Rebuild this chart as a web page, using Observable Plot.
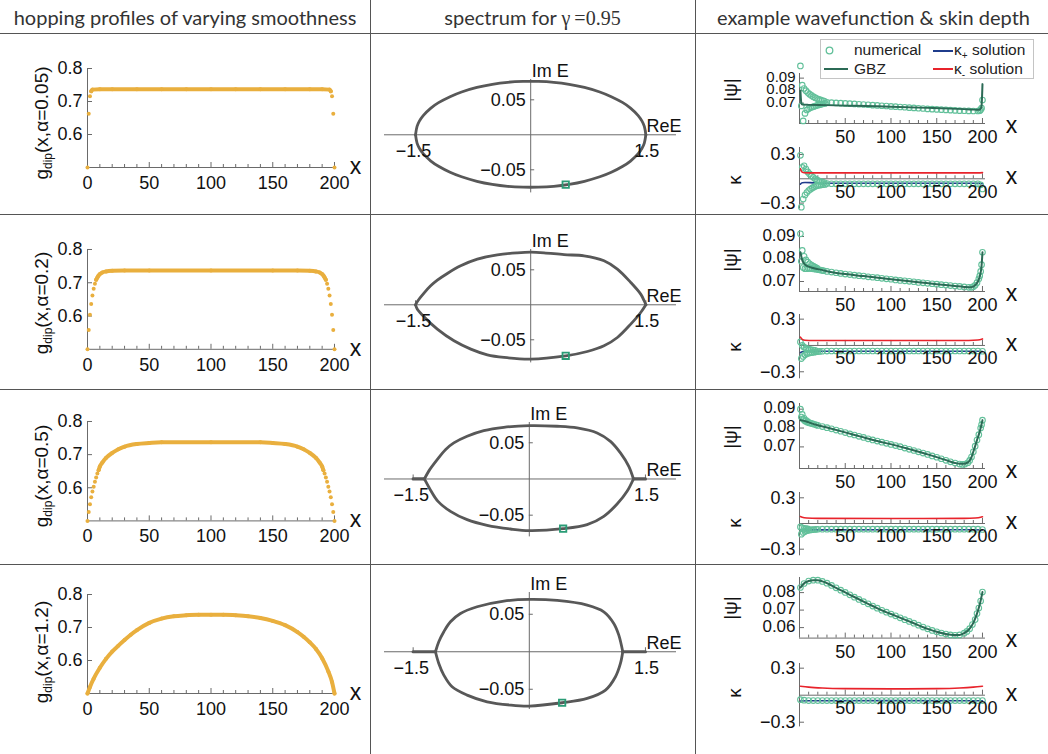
<!DOCTYPE html>
<html><head><meta charset="utf-8">
<script src="https://cdn.jsdelivr.net/npm/d3@7"></script>
<script src="https://cdn.jsdelivr.net/npm/@observablehq/plot@0.6"></script>
<style>
html,body{margin:0;padding:0;background:#fff;}
#root{position:relative;width:1048px;height:754px;overflow:hidden;background:#fff;font-family:"Liberation Sans",Arial,sans-serif;}
.hline{position:absolute;left:0;width:1048px;height:1px;background:#555;}
.vline{position:absolute;top:0;height:754px;width:1px;background:#555;}
.head{position:absolute;top:4px;height:26px;line-height:26px;font-family:Lato,"Open Sans",sans-serif;font-size:20px;color:#333;text-align:center;white-space:nowrap;}
.serif{font-family:"Liberation Serif","DejaVu Serif",serif;}
.rlab{position:absolute;transform:translate(-50%,-50%) rotate(-90deg);white-space:nowrap;font-size:19px;color:#111;line-height:20px;font-family:"Liberation Sans",Arial,sans-serif;}
.rlab sub{font-size:12px;vertical-align:-4px;line-height:0;}
svg{overflow:visible;}
#legend{position:absolute;left:820px;top:39px;width:212px;height:38px;border:1px solid #c4c4c4;background:rgba(255,255,255,0.92);font-size:15.5px;color:#222;}
#legend span{position:absolute;white-space:nowrap;line-height:18px;}
#legend sub{font-size:10px;vertical-align:-4px;line-height:0;}
</style></head><body><div id="root"></div>
<script>
// ---------------- DATA ----------------
// Column 1: hopping profiles g_dip(x, alpha)
const alphaLabels = ["0.05", "0.2", "0.5", "1.2"];
const gX_005 = [0,1,2,3,4,10,20,40,60,80,100,120,140,160,180,190,196,197,198,199,200];
const gY_005 = [0.5,0.663,0.716,0.731,0.736,0.737,0.737,0.737,0.737,0.737,0.737,0.737,0.737,0.737,0.737,0.737,0.736,0.731,0.716,0.663,0.5];
const gBody_005 = [3, 197];
const gX_02 = [0,1,2,3,4,5,6,7,8,9,10,12,15,20,30,50,100,150,170,180,185,188,190,191,192,193,194,195,196,197,198,199,200];
const gY_02 = [0.5,0.558,0.604,0.636,0.662,0.682,0.697,0.709,0.716,0.722,0.726,0.731,0.734,0.736,0.737,0.737,0.737,0.737,0.737,0.736,0.734,0.731,0.726,0.722,0.716,0.709,0.697,0.682,0.662,0.636,0.604,0.558,0.5];
const gBody_02 = [7, 193];
const gX_05 = [0,1,2,3,4,5,6,7,8,9,10,12,15,20,25,30,40,50,60,100,140,150,160,170,175,180,185,188,190,191,192,193,194,195,196,197,198,199,200];
const gY_05 = [0.5,0.527,0.55,0.571,0.589,0.603,0.618,0.631,0.643,0.653,0.664,0.676,0.69,0.705,0.716,0.724,0.732,0.735,0.737,0.737,0.737,0.735,0.732,0.724,0.716,0.705,0.69,0.676,0.664,0.653,0.643,0.631,0.618,0.603,0.589,0.571,0.55,0.527,0.5];
const gBody_05 = [9, 191];
const gX_12 = [0,2,5,10,15,20,25,30,35,40,50,60,70,80,90,100,110,120,130,140,150,160,170,175,180,185,190,195,198,200];
const gY_12 = [0.5,0.52,0.545,0.578,0.605,0.627,0.645,0.662,0.678,0.692,0.714,0.727,0.734,0.737,0.739,0.739,0.739,0.737,0.734,0.729,0.72,0.707,0.686,0.672,0.655,0.635,0.607,0.567,0.535,0.5];
const gBody_12 = [0, 200];
const c1XTicks = [0, 50, 100, 150, 200];
const c1XMinor = [10,20,30,40,60,70,80,90,110,120,130,140,160,170,180,190];
const c1YTicks = [0.6, 0.7, 0.8];

// Column 2: spectra (Re E, Im E), upper and lower branches, real-axis segments
const specUpRe_1 = [-1.5,-1.48,-1.45,-1.4,-1.3,-1.2,-1.05,-0.9,-0.7,-0.5,-0.3,-0.1,0.1,0.3,0.5,0.7,0.9,1.05,1.2,1.3,1.4,1.45,1.48,1.5];
const specUpIm_1 = [0,0.012,0.0195,0.0275,0.0382,0.0459,0.0545,0.0612,0.0677,0.0722,0.075,0.0762,0.0762,0.075,0.0722,0.0677,0.0612,0.0545,0.0459,0.0382,0.0275,0.0195,0.012,0];
const specLoRe_1 = [-1.5,-1.48,-1.45,-1.4,-1.3,-1.2,-1.05,-0.9,-0.7,-0.5,-0.3,-0.1,0.1,0.3,0.5,0.7,0.9,1.05,1.2,1.3,1.4,1.45,1.48,1.5];
const specLoIm_1 = [0,-0.0118,-0.0192,-0.027,-0.0375,-0.045,-0.0535,-0.06,-0.0664,-0.0708,-0.0736,-0.0748,-0.0748,-0.0736,-0.0708,-0.0664,-0.06,-0.0535,-0.045,-0.0375,-0.027,-0.0192,-0.0118,0];
const specUpRe_2 = [-1.5,-1.476,-1.39,-1.303,-1.216,-1.086,-0.912,-0.695,-0.434,-0.174,0,0.174,0.434,0.695,0.955,1.129,1.303,1.433,1.476,1.5];
const specUpIm_2 = [0,0.0048,0.0167,0.0271,0.0352,0.0448,0.0557,0.0652,0.0714,0.0743,0.0752,0.0743,0.0716,0.07,0.0629,0.051,0.0319,0.0152,0.0062,0];
const specLoRe_2 = [-1.5,-1.476,-1.39,-1.216,-0.999,-0.78,-0.565,-0.347,0,0.456,0.738,0.955,1.129,1.303,1.433,1.5];
const specLoIm_2 = [0,-0.0062,-0.0171,-0.0348,-0.0514,-0.0633,-0.0714,-0.0752,-0.0776,-0.0729,-0.0667,-0.0586,-0.0467,-0.0276,-0.011,0];
const specUpRe_3 = [-1.355,-1.286,-1.19,-1.083,-0.975,-0.803,-0.588,-0.33,0,0.36,0.618,0.876,1.048,1.177,1.285,1.345];
const specUpIm_3 = [0,0.0129,0.0267,0.0405,0.0498,0.059,0.0668,0.0714,0.0737,0.0728,0.0705,0.0636,0.052,0.036,0.0175,0];
const specLoRe_3 = [-1.355,-1.286,-1.179,-1.018,-0.803,-0.545,-0.243,0,0.437,0.747,0.962,1.134,1.263,1.345];
const specLoIm_3 = [0,-0.0134,-0.0309,-0.0447,-0.0562,-0.064,-0.0691,-0.0714,-0.0687,-0.0631,-0.0516,-0.0346,-0.017,0];
const specSegL_3 = [-1.5, -1.355];
const specSegR_3 = [1.345, 1.5];
const specUpRe_4 = [-1.212,-1.169,-1.104,-1.018,-0.889,-0.674,-0.329,0,0.36,0.747,0.962,1.091,1.156,1.207];
const specUpIm_4 = [0,0.0133,0.0267,0.04,0.0511,0.06,0.0676,0.0698,0.0684,0.0622,0.0533,0.0378,0.0222,0];
const specLoRe_4 = [-1.212,-1.169,-1.104,-0.997,-0.803,-0.545,-0.243,0,0.424,0.747,0.984,1.113,1.177,1.207];
const specLoIm_4 = [0,-0.0156,-0.0311,-0.0467,-0.0578,-0.0667,-0.0711,-0.0724,-0.068,-0.0622,-0.0511,-0.0333,-0.0156,0];
const specSegL_4 = [-1.5, -1.212];
const specSegR_4 = [1.207, 1.5];
const selRe = [0.456, 0.456, 0.437, 0.424];
const selIm = [-0.0712, -0.0729, -0.0687, -0.068];
const c2XTicks = [-1.5, 1.5];
const c2YTicks = [-0.05, 0.05];

// Column 3: wavefunction |psi| and skin depth kappa
const psiNumX_1 = [1,2,3,4,5,6,7,8,9,10,11,12,13,14,15,16,17,18,19,20,21,22,23,24,25,26,27,28,30,35,40,45,50,55,60,65,70,75,80,85,90,95,100,105,110,115,120,125,130,135,140,145,150,155,160,165,170,175,180,185,190,195,197,198,199,200];
const psiNumY_1 = [0.0998,0.0678,0.0844,0.0558,0.0817,0.0618,0.08,0.0645,0.0785,0.0656,0.0772,0.0663,0.0762,0.0669,0.0752,0.0674,0.0744,0.0679,0.0737,0.0684,0.0731,0.0688,0.0726,0.0692,0.0721,0.0695,0.0717,0.0698,0.0706,0.0704,0.0702,0.07,0.0698,0.0696,0.0694,0.0691,0.0689,0.0687,0.0684,0.0682,0.0679,0.0677,0.0674,0.0672,0.0669,0.0667,0.0664,0.0662,0.0659,0.0657,0.0654,0.0652,0.065,0.0648,0.0646,0.0644,0.0642,0.064,0.0639,0.0638,0.0637,0.0637,0.064,0.0648,0.066,0.0725];
const gbzX_1 = [1,2,3,10,30,60,100,140,180,192,196,198,199,200];
const gbzY_1 = [0.08,0.07,0.0688,0.0686,0.0684,0.0679,0.0671,0.0662,0.0652,0.0648,0.0647,0.0655,0.068,0.0852];
const kapNumX_1 = [1,2,3,4,5,6,7,8,9,10,11,12,13,14,15,16,17,18,19,20,21,22,23,24,25,26,27,28,30,35,40,45,50,55,60,65,70,75,80,85,90,95,100,105,110,115,120,125,130,135,140,145,150,155,160,165,170,175,180,185,190,195,198,200];
const kapNumY_1 = [0.29,-0.35,0.14,-0.25,0.16,-0.2,0.12,-0.17,0.085,-0.145,0.06,-0.128,0.037,-0.113,0.018,-0.1,0,-0.09,-0.014,-0.084,-0.025,-0.079,-0.034,-0.075,-0.041,-0.072,-0.047,-0.07,-0.058,-0.061,-0.062,-0.062,-0.062,-0.062,-0.062,-0.062,-0.062,-0.062,-0.062,-0.062,-0.062,-0.062,-0.062,-0.062,-0.062,-0.062,-0.062,-0.062,-0.062,-0.062,-0.062,-0.062,-0.062,-0.062,-0.062,-0.062,-0.062,-0.062,-0.062,-0.062,-0.062,-0.062,-0.075,-0.125];
const kapPlusX_1 = [1,3,6,15,30,100,195,200];
const kapPlusY_1 = [-0.066,-0.05,-0.045,-0.05,-0.055,-0.056,-0.056,-0.06];
const kapMinusX_1 = [1,2,3,5,10,100,195,200];
const kapMinusY_1 = [0.125,0.095,0.082,0.075,0.073,0.073,0.073,0.076];

const psiNumX_2 = [1,2,3,4,5,6,7,8,9,10,11,12,13,14,15,16,17,18,19,20,22,24,26,30,35,40,45,50,55,60,65,70,75,80,85,90,95,100,105,110,115,120,125,130,135,140,145,150,155,160,165,170,175,180,185,188,190,192,194,196,197,198,199,200];
const psiNumY_2 = [0.0912,0.079,0.0838,0.0762,0.0812,0.0757,0.0796,0.0757,0.0786,0.0758,0.0779,0.0758,0.0773,0.0757,0.0768,0.0756,0.0764,0.0755,0.076,0.0753,0.0752,0.075,0.0748,0.0745,0.0742,0.0739,0.0736,0.0733,0.0731,0.0728,0.0726,0.0724,0.0721,0.0719,0.0717,0.0714,0.0712,0.071,0.0707,0.0705,0.0703,0.0701,0.0699,0.0696,0.0694,0.0692,0.069,0.0688,0.0686,0.0684,0.0682,0.068,0.0678,0.0676,0.0674,0.0674,0.0677,0.0683,0.0695,0.0712,0.0725,0.0745,0.0775,0.083];
const gbzX_2 = [1,3,5,7,10,15,20,30,50,70,100,130,150,170,180,186,190,193,195,197,199,200];
const gbzY_2 = [0.083,0.0795,0.078,0.0772,0.0766,0.076,0.0755,0.0746,0.0733,0.0724,0.071,0.0697,0.0688,0.068,0.0676,0.0674,0.0677,0.0688,0.07,0.0722,0.077,0.083];
const kapNumX_2 = [1,2,3,4,5,6,7,8,9,10,11,12,13,14,15,16,17,18,20,22,25,30,35,40,45,50,55,60,65,70,75,80,85,90,95,100,105,110,115,120,125,130,135,140,145,150,155,160,165,170,175,180,185,190,195,200];
const kapNumY_2 = [0.04,-0.15,0,-0.125,-0.02,-0.105,-0.032,-0.095,-0.04,-0.088,-0.045,-0.083,-0.049,-0.079,-0.052,-0.076,-0.055,-0.073,-0.07,-0.068,-0.066,-0.064,-0.063,-0.063,-0.063,-0.063,-0.063,-0.063,-0.063,-0.063,-0.063,-0.063,-0.063,-0.063,-0.063,-0.063,-0.063,-0.063,-0.063,-0.063,-0.063,-0.063,-0.063,-0.063,-0.063,-0.063,-0.063,-0.063,-0.063,-0.063,-0.063,-0.063,-0.063,-0.063,-0.063,-0.066];
const kapPlusX_2 = [1,3,6,15,100,195,200];
const kapPlusY_2 = [-0.083,-0.072,-0.068,-0.066,-0.066,-0.066,-0.068];
const kapMinusX_2 = [1,3,6,15,100,185,195,200];
const kapMinusY_2 = [0.095,0.07,0.06,0.057,0.056,0.057,0.062,0.075];

const psiNumX_3 = [1,2,3,4,5,6,7,8,9,10,12,14,16,18,20,25,30,35,40,45,50,55,60,65,70,75,80,85,90,95,100,105,110,115,120,125,130,135,140,145,150,155,160,165,170,175,178,181,184,186,188,190,192,194,196,198,199,200];
const psiNumY_3 = [0.09,0.0858,0.0872,0.0846,0.0852,0.0838,0.0841,0.0832,0.0834,0.0828,0.0826,0.0823,0.082,0.0817,0.0814,0.0808,0.0802,0.0796,0.0789,0.0783,0.0776,0.0769,0.0763,0.0756,0.075,0.0743,0.0737,0.0731,0.0725,0.0719,0.0713,0.0707,0.0701,0.0694,0.0687,0.0681,0.0674,0.0667,0.066,0.0652,0.0645,0.0637,0.0629,0.0621,0.0614,0.0609,0.0607,0.0609,0.0616,0.0628,0.0646,0.0674,0.0704,0.0736,0.0765,0.08,0.0818,0.0842];
const gbzX_3 = [1,5,10,20,32,50,68,85,105,120,141,155,163,170,176,180,184,186,188,190,192,194,196,198,200];
const gbzY_3 = [0.0842,0.0838,0.083,0.0815,0.08,0.0777,0.0753,0.0731,0.0708,0.0688,0.0659,0.0638,0.0625,0.0615,0.061,0.0611,0.0618,0.0628,0.0646,0.0674,0.0704,0.0736,0.0765,0.08,0.0842];
const kapNumX_3 = [1,2,3,4,5,6,7,8,9,10,12,14,16,18,20,25,30,35,40,45,50,55,60,65,70,75,80,85,90,95,100,105,110,115,120,125,130,135,140,145,150,155,160,165,170,175,180,185,190,195,200];
const kapNumY_3 = [-0.04,-0.125,-0.05,-0.105,-0.056,-0.092,-0.06,-0.084,-0.063,-0.079,-0.075,-0.072,-0.07,-0.068,-0.067,-0.066,-0.066,-0.066,-0.066,-0.066,-0.066,-0.066,-0.066,-0.066,-0.066,-0.066,-0.066,-0.066,-0.066,-0.066,-0.066,-0.066,-0.066,-0.066,-0.066,-0.066,-0.066,-0.066,-0.066,-0.066,-0.066,-0.066,-0.066,-0.066,-0.066,-0.066,-0.066,-0.066,-0.066,-0.066,-0.07];
const kapPlusX_3 = [1,5,20,100,190,200];
const kapPlusY_3 = [-0.072,-0.075,-0.074,-0.073,-0.073,-0.075];
const kapMinusX_3 = [1,3,8,20,100,180,192,198,200];
const kapMinusY_3 = [0.082,0.072,0.064,0.06,0.058,0.06,0.064,0.072,0.078];

const psiNumX_4 = [1,5,10,15,20,25,30,35,40,45,50,55,60,65,70,75,80,85,90,95,100,105,110,115,120,125,130,135,140,145,150,155,160,165,170,175,180,183,186,189,192,194,196,198,200];
const psiNumY_4 = [0.0829,0.0852,0.0866,0.0871,0.0871,0.0864,0.0854,0.0841,0.0827,0.0814,0.0801,0.0787,0.0774,0.0761,0.0748,0.0736,0.0723,0.0711,0.0699,0.0688,0.0677,0.0667,0.0656,0.0645,0.0635,0.0625,0.0614,0.0603,0.0593,0.0584,0.0576,0.0569,0.0563,0.0558,0.0556,0.0558,0.0568,0.0578,0.0594,0.0617,0.0646,0.068,0.0712,0.0752,0.0803];
const gbzX_4 = [1,6,10,15,20,25,32,40,50,61,75,87,105,123,141,150,160,168,175,180,186,190,194,197,200];
const gbzY_4 = [0.0829,0.0857,0.0866,0.0871,0.0871,0.0864,0.0849,0.0827,0.0801,0.0772,0.0736,0.0706,0.0667,0.0629,0.0591,0.0576,0.0563,0.0557,0.0558,0.0568,0.0594,0.0627,0.068,0.0732,0.0803];
const kapNumX_4 = [1,5,10,15,20,25,30,35,40,45,50,55,60,65,70,75,80,85,90,95,100,105,110,115,120,125,130,135,140,145,150,155,160,165,170,175,180,185,190,195,200];
const kapNumY_4 = [-0.05,-0.055,-0.06,-0.06,-0.06,-0.06,-0.06,-0.06,-0.06,-0.06,-0.06,-0.06,-0.06,-0.06,-0.06,-0.06,-0.06,-0.06,-0.06,-0.06,-0.06,-0.06,-0.06,-0.06,-0.06,-0.06,-0.06,-0.06,-0.06,-0.06,-0.06,-0.06,-0.06,-0.06,-0.06,-0.06,-0.06,-0.06,-0.06,-0.06,-0.06];
const kapPlusX_4 = [1,10,100,200];
const kapPlusY_4 = [-0.065,-0.062,-0.06,-0.062];
const kapMinusX_4 = [1,10,25,50,100,150,175,190,200];
const kapMinusY_4 = [0.1,0.09,0.08,0.073,0.07,0.073,0.08,0.09,0.1];

const c3XTicks = [50, 100, 150, 200];
const c3XMinor = [10,20,30,40,60,70,80,90,110,120,130,140,160,170,180,190];
const psiYTicks = [[0.07,0.08,0.09],[0.07,0.08,0.09],[0.07,0.08,0.09],[0.06,0.07,0.08]];
const kapYTicks = [-0.3, 0.3];

// ---------------- STYLE / LAYOUT ----------------
const ORANGE = "#E9AF3E", SPEC = "#585858", MINT = "#62C09A", GBZC = "#2B6A55",
      BLUE = "#1F3C8C", RED = "#E8232B", SQ = "#2A9C76", AX = "#6a6a6a", TXT = "#111";
const FONT = "Liberation Sans, Arial, sans-serif";
const FS = 18;
const root = document.getElementById("root");
const fmt = v => (v < 0 ? "\u2212" : "") + String(Math.abs(v));
const zip = (X, Y) => X.map((x, i) => ({x, y: Y[i]}));
const T = {fontSize: FS, fill: TXT, fontFamily: FONT};

function panel(fr, xd, yd, build) {
  const ml = 90, mr = 60, mt = 40, mb = 40;
  const w = fr.x1 - fr.x0, h = fr.y1 - fr.y0;
  const ky = (yd[1] - yd[0]) / h, kx = (xd[1] - xd[0]) / w; // data units per pixel
  const svg = Plot.plot({
    width: w + ml + mr, height: h + mt + mb,
    marginLeft: ml, marginRight: mr, marginTop: mt, marginBottom: mb,
    x: {domain: xd, axis: null}, y: {domain: yd, axis: null},
    style: {background: "transparent", overflow: "visible", fontFamily: FONT},
    marks: build(kx, ky)
  });
  svg.style.position = "absolute";
  svg.style.left = (fr.x0 - ml) + "px";
  svg.style.top = (fr.y0 - mt) + "px";
  root.appendChild(svg);
}
const xTickMarks = (vals, y0, len, ky) => Plot.ruleX(vals, {x: d => d, y1: y0, y2: y0 + len * ky, stroke: AX, strokeWidth: 1});
const yTickMarks = (vals, x0, len, kx) => Plot.ruleY(vals, {y: d => d, x1: x0, x2: x0 + len * kx, stroke: AX, strokeWidth: 1});

// table grid
[33, 214, 389, 564].forEach(y => { const d = document.createElement("div"); d.className = "hline"; d.style.top = y + "px"; root.appendChild(d); });
[370, 695].forEach(x => { const d = document.createElement("div"); d.className = "vline"; d.style.left = x + "px"; root.appendChild(d); });

// headers
function addHtml(html, cls, css) { const d = document.createElement("div"); d.innerHTML = html; d.className = cls; Object.assign(d.style, css); root.appendChild(d); return d; }
addHtml("hopping profiles of varying smoothness", "head", {left: "0px", width: "370px"});
addHtml('spectrum for <span class="serif">\u03B3\u2009=0.95</span>', "head", {left: "370px", width: "325px"});
addHtml("example wavefunction &amp; skin depth", "head", {left: "697px", width: "353px"});

// ---------------- COLUMN 1 ----------------
const c1Frames = [{x0: 87, x1: 334, y0: 68.3, y1: 167.3}, {x0: 87, x1: 334, y0: 248.5, y1: 348.3},
                  {x0: 87, x1: 334, y0: 421.3, y1: 520.7}, {x0: 87, x1: 334, y0: 594.3, y1: 693.3}];
const c1Data = [[gX_005, gY_005, gBody_005], [gX_02, gY_02, gBody_02], [gX_05, gY_05, gBody_05], [gX_12, gY_12, gBody_12]];
const c1LabelY = [122.5, 303, 476, 652];
c1Data.forEach(([X, G, body], r) => {
  const pts = zip(X, G);
  const bodyPts = pts.filter(d => d.x >= body[0] && d.x <= body[1]);
  panel(c1Frames[r], [0, 200], [0.5, 0.8], (kx, ky) => [
    Plot.ruleY([0.5], {x1: 0, x2: 200, stroke: AX}),
    Plot.ruleX([0], {y1: 0.5, y2: 0.8, stroke: AX}),
    xTickMarks(c1XMinor, 0.5, 3, ky),
    xTickMarks(c1XTicks, 0.5, 5, ky),
    yTickMarks(c1YTicks, 0, 5, kx),
    Plot.line(bodyPts, {x: "x", y: "y", stroke: ORANGE, strokeWidth: 4, curve: "monotone-x"}),
    Plot.dot(pts, {x: "x", y: "y", r: 2, fill: ORANGE}),
    Plot.text(c1XTicks, {x: d => d, y: 0.5, dy: 15.5, text: fmt, ...T}),
    Plot.text(c1YTicks, {x: 0, y: d => d, dx: -5, textAnchor: "end", text: fmt, ...T}),
    Plot.text(["x"], {x: 200, y: 0.5, dx: 21, dy: -1, ...T, fontSize: 23})
  ]);
  addHtml('g<sub>dip</sub>(x,\u03B1=' + alphaLabels[r] + ')', "rlab", {left: "42px", top: c1LabelY[r] + "px"});
});

// ---------------- COLUMN 2 ----------------
const c2Frames = [
  {x0: 384, x1: 676, y0: 79.0, y1: 192.4, xd: [-1.904, 1.899], yd: [-0.083, 0.079]},
  {x0: 384, x1: 676, y0: 249.4, y1: 362.8, xd: [-1.904, 1.899], yd: [-0.083, 0.079]},
  {x0: 384, x1: 676, y0: 421.8, y1: 536.2, xd: [-1.87, 1.901], yd: [-0.08, 0.078]},
  {x0: 384, x1: 676, y0: 591.55, y1: 708.55, xd: [-1.87, 1.901], yd: [-0.077, 0.079]}
];
const specUp = [[specUpRe_1, specUpIm_1], [specUpRe_2, specUpIm_2], [specUpRe_3, specUpIm_3], [specUpRe_4, specUpIm_4]];
const specLo = [[specLoRe_1, specLoIm_1], [specLoRe_2, specLoIm_2], [specLoRe_3, specLoIm_3], [specLoRe_4, specLoIm_4]];
const specSegs = [[], [], [specSegL_3, specSegR_3], [specSegL_4, specSegR_4]];
c2Frames.forEach((fr, r) => {
  const up = zip(specUp[r][0], specUp[r][1]);
  const lo = zip(specLo[r][0], specLo[r][1]);
  const segs = specSegs[r].map(s => s.map(x => ({x, y: 0})));
  panel(fr, fr.xd, fr.yd, (kx, ky) => [
    Plot.ruleY([0], {x1: fr.xd[0], x2: fr.xd[1], stroke: AX}),
    Plot.ruleX([0], {y1: fr.yd[0], y2: fr.yd[1], stroke: AX}),
    yTickMarks(c2YTicks, 0, 4, kx),
    xTickMarks(c2XTicks, 0, 4, ky),
    ...segs.map(s => Plot.line(s, {x: "x", y: "y", stroke: SPEC, strokeWidth: 3.2})),
    Plot.line(up, {x: "x", y: "y", stroke: SPEC, strokeWidth: 2.8, curve: "catmull-rom"}),
    Plot.line(lo, {x: "x", y: "y", stroke: SPEC, strokeWidth: 2.8, curve: "catmull-rom"}),
    Plot.dot([{x: selRe[r], y: selIm[r]}], {x: "x", y: "y", symbol: "square", r: 3.6, stroke: SQ, strokeWidth: 1.8, fill: "none"}),
    Plot.text(c2YTicks, {x: 0, y: d => d, dx: -5, textAnchor: "end", text: fmt, ...T}),
    Plot.text([-1.5], {x: d => d, y: 0, dy: 16, dx: -2, text: fmt, ...T}),
    Plot.text([1.5], {x: d => d, y: 0, dy: 16, dx: 1, text: fmt, ...T}),
    Plot.text(["Im E"], {x: 0, y: fr.yd[1], dx: 1, dy: -8, textAnchor: "start", ...T}),
    Plot.text(["ReE"], {x: fr.xd[1], y: 0, dx: 5, dy: -9, textAnchor: "end", ...T})
  ]);
});

// ---------------- COLUMN 3 ----------------
const c3x = [799, 985], c3xd = [0, 203.3];
const psiFrames = [{y0: 72.7, y1: 122.7, yd: [0.0537, 0.0937]}, {y0: 230, y1: 291, yd: [0.06556, 0.09267]},
                   {y0: 403.3, y1: 468.3, yd: [0.05854, 0.09302]}, {y0: 576.7, y1: 637.3, yd: [0.054, 0.08863]}];
const kapFrames = [{y0: 146.7, y1: 208.3, yd: [-0.374, 0.386]}, {y0: 314, y1: 378.3, yd: [-0.38, 0.353]},
                   {y0: 491.7, y1: 555, yd: [-0.377, 0.362]}, {y0: 663.3, y1: 726.7, yd: [-0.352, 0.352]}];
const psiNum = [[psiNumX_1, psiNumY_1], [psiNumX_2, psiNumY_2], [psiNumX_3, psiNumY_3], [psiNumX_4, psiNumY_4]];
const gbz = [[gbzX_1, gbzY_1], [gbzX_2, gbzY_2], [gbzX_3, gbzY_3], [gbzX_4, gbzY_4]];
const kapNum = [[kapNumX_1, kapNumY_1], [kapNumX_2, kapNumY_2], [kapNumX_3, kapNumY_3], [kapNumX_4, kapNumY_4]];
const kapPlus = [[kapPlusX_1, kapPlusY_1], [kapPlusX_2, kapPlusY_2], [kapPlusX_3, kapPlusY_3], [kapPlusX_4, kapPlusY_4]];
const kapMinus = [[kapMinusX_1, kapMinusY_1], [kapMinusX_2, kapMinusY_2], [kapMinusX_3, kapMinusY_3], [kapMinusX_4, kapMinusY_4]];
const psiLabelY = [90, 260, 436.7, 608];
const kapLabelY = [180, 346.7, 523.3, 693.3];
const psiTickFS = [15, 17, 16.5, 17];
for (let r = 0; r < 4; r++) {
  const pf = psiFrames[r], kf = kapFrames[r];
  const y0 = pf.yd[0];
  panel({x0: c3x[0], x1: c3x[1], y0: pf.y0, y1: pf.y1}, c3xd, pf.yd, (kx, ky) => [
    Plot.ruleY([y0], {x1: 0, x2: c3xd[1], stroke: AX}),
    Plot.ruleX([0], {y1: pf.yd[0], y2: pf.yd[1], stroke: AX}),
    xTickMarks(c3XMinor, y0, 3, ky),
    xTickMarks(c3XTicks, y0, 5, ky),
    yTickMarks(psiYTicks[r], 0, 5, kx),
    Plot.dot(zip(psiNum[r][0], psiNum[r][1]), {x: "x", y: "y", r: 2.8, stroke: MINT, strokeWidth: 1.1, fill: "none"}),
    Plot.line(zip(gbz[r][0], gbz[r][1]), {x: "x", y: "y", stroke: GBZC, strokeWidth: 2, curve: "monotone-x"}),
    Plot.text(c3XTicks, {x: d => d, y: y0, dy: 14, text: fmt, ...T}),
    Plot.text(psiYTicks[r], {x: 0, y: d => d, dx: -4, textAnchor: "end", text: fmt, ...T, fontSize: psiTickFS[r], lineHeight: 0.8}),
    Plot.text(["x"], {x: c3xd[1], y: y0, dx: 26, dy: 2, ...T, fontSize: 23})
  ]);
  panel({x0: c3x[0], x1: c3x[1], y0: kf.y0, y1: kf.y1}, c3xd, kf.yd, (kx, ky) => [
    Plot.ruleY([0], {x1: 0, x2: c3xd[1], stroke: AX}),
    Plot.ruleX([0], {y1: kf.yd[0], y2: kf.yd[1], stroke: AX}),
    xTickMarks(c3XMinor, 0, 3, ky),
    xTickMarks(c3XTicks, 0, 5, ky),
    yTickMarks(kapYTicks, 0, 5, kx),
    Plot.line(zip(kapPlus[r][0], kapPlus[r][1]), {x: "x", y: "y", stroke: BLUE, strokeWidth: 1.6, curve: "monotone-x"}),
    Plot.dot(zip(kapNum[r][0], kapNum[r][1]), {x: "x", y: "y", r: 2.8, stroke: MINT, strokeWidth: 1.1, fill: "none"}),
    Plot.line(zip(kapMinus[r][0], kapMinus[r][1]), {x: "x", y: "y", stroke: RED, strokeWidth: 1.6, curve: "monotone-x"}),
    Plot.text(c3XTicks, {x: d => d, y: 0, dy: 13, text: fmt, ...T}),
    Plot.text(kapYTicks, {x: 0, y: d => d, dx: -4, textAnchor: "end", text: fmt, ...T}),
    Plot.text(["x"], {x: c3xd[1], y: 0, dx: 26, dy: -2, ...T, fontSize: 23})
  ]);
  addHtml("|\u03C8|", "rlab", {left: "731px", top: psiLabelY[r] + "px"});
  addHtml("\u03BA", "rlab", {left: "735px", top: kapLabelY[r] + "px"});
}

// legend
const lg = document.createElement("div");
lg.id = "legend";
lg.innerHTML = `<svg width="212" height="38" style="position:absolute;left:0;top:0">
  <circle cx="8.5" cy="10.5" r="3.3" fill="none" stroke="${MINT}" stroke-width="1.3"/>
  <line x1="3" x2="27" y1="29" y2="29" stroke="${GBZC}" stroke-width="2"/>
  <line x1="112" x2="132" y1="11" y2="11" stroke="${BLUE}" stroke-width="2"/>
  <line x1="112" x2="132" y1="29" y2="29" stroke="${RED}" stroke-width="2"/>
</svg>
<span style="left:33px;top:1px">numerical</span>
<span style="left:33px;top:20px">GBZ</span>
<span style="left:133px;top:1px">\u03BA<sub>+</sub> solution</span>
<span style="left:133px;top:20px">\u03BA<sub>-</sub> solution</span>`;
root.appendChild(lg);
</script></body></html>
